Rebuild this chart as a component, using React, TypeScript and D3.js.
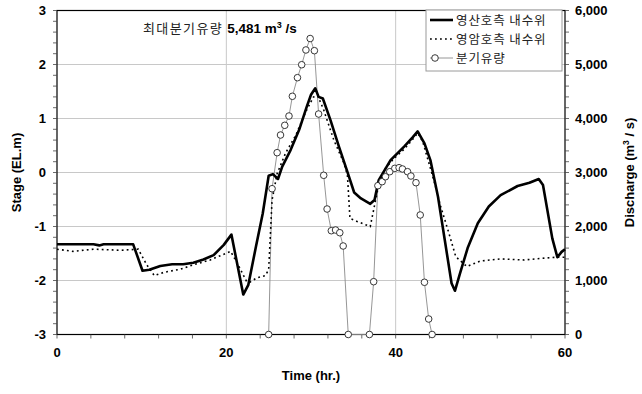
import React from "react";
import * as d3 from "d3";

const solidT = [0, 4.3, 5.0, 5.5, 9.0, 10.1, 10.9, 12.2, 13.6, 14.9, 16.1, 17.3, 18.5, 19.7, 20.6, 22.0, 22.6, 23.5, 24.3, 25.0, 25.5, 26.1, 26.6, 27.6, 28.6, 29.5, 30.0, 30.5, 30.9, 31.4, 32.3, 33.3, 34.3, 35.1, 35.9, 37.0, 37.5, 38.0, 39.4, 41.0, 42.0, 42.6, 43.4, 44.1, 45.0, 45.8, 46.6, 47.0, 47.6, 48.5, 49.7, 51.0, 52.4, 54.4, 55.8, 56.9, 57.4, 58.5, 59.1, 59.6, 60.0];
const solidStage = [-1.33, -1.33, -1.35, -1.33, -1.33, -1.82, -1.8, -1.73, -1.7, -1.7, -1.67, -1.61, -1.53, -1.34, -1.15, -2.26, -2.08, -1.37, -0.76, -0.06, -0.03, -0.12, 0.11, 0.42, 0.79, 1.22, 1.44, 1.56, 1.4, 1.37, 0.97, 0.48, 0.01, -0.37, -0.48, -0.58, -0.51, -0.14, 0.23, 0.48, 0.65, 0.76, 0.54, 0.23, -0.45, -1.25, -2.05, -2.19, -1.87, -1.4, -0.94, -0.63, -0.42, -0.25, -0.19, -0.12, -0.23, -1.22, -1.57, -1.47, -1.42];

const dotT = [0, 1.9, 4.3, 7.5, 9.6, 10.6, 11.5, 12.6, 14.6, 16.1, 18.1, 20.5, 21.3, 22.4, 22.8, 23.6, 24.6, 25.0, 25.4, 26.0, 27.0, 28.2, 29.4, 30.3, 30.8, 31.5, 32.7, 33.9, 34.3, 34.6, 35.5, 37.0, 37.4, 38.1, 38.8, 39.8, 41.0, 42.0, 42.6, 43.2, 44.5, 45.3, 46.3, 47.1, 48.4, 50.0, 52.4, 55.2, 57.2, 58.9, 60.0];
const dotStage = [-1.42, -1.46, -1.42, -1.44, -1.42, -1.71, -1.91, -1.85, -1.79, -1.71, -1.62, -1.46, -1.68, -2.02, -2.03, -1.95, -1.91, -1.8, -0.51, -0.02, 0.36, 0.69, 1.13, 1.4, 1.42, 1.16, 0.6, 0.17, -0.05, -0.85, -0.91, -1.0, -0.69, -0.14, 0.08, 0.26, 0.43, 0.61, 0.73, 0.57, -0.14, -0.62, -1.13, -1.56, -1.74, -1.64, -1.6, -1.62, -1.59, -1.57, -1.57];

const flowT = [25.0, 25.4, 26.0, 26.4, 26.9, 27.4, 27.8, 28.4, 28.9, 29.4, 29.9, 30.4, 30.9, 31.5, 31.9, 32.4, 32.9, 33.4, 33.8, 34.4, 36.9, 37.4, 37.9, 38.4, 38.8, 39.3, 39.9, 40.4, 40.8, 41.4, 41.8, 42.4, 42.9, 43.4, 43.9, 44.3];
const flowQ = [0, 2700, 3367, 3694, 3874, 4046, 4411, 4756, 4996, 5269, 5481, 5256, 4083, 2948, 2324, 1922, 1935, 1885, 1639, 0, 0, 978, 2756, 2830, 2922, 3015, 3077, 3089, 3065, 3015, 2935, 2811, 2213, 967, 287, 0];

const xTicks = [0, 20, 40, 60];
const yTicks = [3, 2, 1, 0, -1, -2, -3];
const qTicks = [6000, 5000, 4000, 3000, 2000, 1000, 0];
const legendNames = ["영산호측 내수위", "영암호측 내수위", "분기유량"];
const noteLabel = "최대분기유량";
const noteValue = "5,481";

const W = 642, H = 394;
const L = 57, R = 565, T = 10.5, B = 334.5;

export default function App() {
  const x = d3.scaleLinear().domain([0, 60]).range([L, R]);
  const y = d3.scaleLinear().domain([-3, 3]).range([B, T]);
  const q = d3.scaleLinear().domain([0, 6000]).range([B, T]);

  const solid = solidT.map((t, i) => [t, solidStage[i]] as [number, number]);
  const dotted = dotT.map((t, i) => [t, dotStage[i]] as [number, number]);
  const flow = flowT.map((t, i) => [t, flowQ[i]] as [number, number]);

  const stageLine = d3.line<[number, number]>().x(d => x(d[0])).y(d => y(d[1]));
  const flowLine = d3.line<[number, number]>().x(d => x(d[0])).y(d => q(d[1]));

  const bold = "'Liberation Sans', Arial, sans-serif";
  const kr = "'Noto Sans CJK KR', sans-serif";

  const yMinor = d3.range(-3, 3.001, 0.2);
  const qMinor = d3.range(0, 6001, 200);
  const xMinor = d3.range(0, 60.001, 4);

  const lgX = 426, lgY = 10;
  return (
    <svg width={W} height={H} style={{ position: "absolute", left: 0, top: 0, background: "#fff" }}>
      <rect x={0} y={0} width={W} height={H} fill="#fff" />
      {[-2, -1, 0, 1, 2].map(v => (
        <line key={"gy" + v} x1={L} x2={R} y1={y(v)} y2={y(v)} stroke="#c8c8c8" strokeWidth={1} />
      ))}
      {[20, 40].map(v => (
        <line key={"gx" + v} x1={x(v)} x2={x(v)} y1={T} y2={B} stroke="#c8c8c8" strokeWidth={1} />
      ))}
      <rect x={L} y={T} width={R - L} height={B - T} fill="none" stroke="#000" strokeWidth={1.2} />
      {yMinor.map((v, i) => (
        <line key={"ty" + i} x1={L - 4} x2={L} y1={y(v)} y2={y(v)} stroke="#444" strokeWidth={0.8} />
      ))}
      {qMinor.map((v, i) => (
        <line key={"tq" + i} x1={R} x2={R + 4} y1={q(v)} y2={q(v)} stroke="#444" strokeWidth={0.8} />
      ))}
      {xMinor.map((v, i) => (
        <line key={"tx" + i} x1={x(v)} x2={x(v)} y1={B} y2={B + 4} stroke="#444" strokeWidth={0.8} />
      ))}
      {yTicks.map(v => (
        <text key={"ly" + v} x={L - 11} y={y(v) + 4.5} textAnchor="end" fontFamily={bold} fontWeight="bold" fontSize={13}>{v}</text>
      ))}
      {qTicks.map(v => (
        <text key={"lq" + v} x={R + 10} y={q(v) + 4.5} textAnchor="start" fontFamily={bold} fontWeight="bold" fontSize={13}>{d3.format(",")(v)}</text>
      ))}
      {xTicks.map(v => (
        <text key={"lx" + v} x={x(v)} y={B + 22} textAnchor="middle" fontFamily={bold} fontWeight="bold" fontSize={13}>{v}</text>
      ))}
      <text x={(L + R) / 2} y={380} textAnchor="middle" fontFamily={bold} fontWeight="bold" fontSize={13}>Time (hr.)</text>
      <text transform={`translate(21,${(T + B) / 2}) rotate(-90)`} textAnchor="middle" fontFamily={bold} fontWeight="bold" fontSize={13}>Stage (EL.m)</text>
      <text transform={`translate(634,${(T + B) / 2}) rotate(-90)`} textAnchor="middle" fontFamily={bold} fontWeight="bold" fontSize={13}>
        Discharge (m<tspan dy={-5} fontSize={8.5}>3</tspan><tspan dy={5}> / s)</tspan>
      </text>
      <path d={flowLine(flow) || ""} fill="none" stroke="#8a8a8a" strokeWidth={0.9} />
      <path d={stageLine(dotted) || ""} fill="none" stroke="#000" strokeWidth={1.6} strokeDasharray="1.8,3.2" />
      <path d={stageLine(solid) || ""} fill="none" stroke="#000" strokeWidth={2.6} strokeLinejoin="round" />
      {flow.map((d, i) => (
        <circle key={"c" + i} cx={x(d[0])} cy={q(d[1])} r={3.3} fill="#fff" stroke="#222" strokeWidth={0.9} />
      ))}
      <text x={143} y={33}>
        <tspan fontFamily={kr} fill="#222" fontSize={13} letterSpacing={1.4}>{noteLabel}</tspan>
        <tspan fontFamily={bold} fontWeight="bold" fontSize={13.5} dx={4}>{noteValue} m</tspan>
        <tspan fontFamily={bold} fontWeight="bold" fontSize={9} dy={-5}>3</tspan>
        <tspan fontFamily={bold} fontWeight="bold" fontSize={13.5} dy={5}> /s</tspan>
      </text>
      <rect x={lgX} y={lgY} width={R - 3 - lgX} height={61} fill="#fff" stroke="#9a9a9a" strokeWidth={1} />
      {legendNames.map((name, i) => {
        const yy = lgY + 10 + i * 19;
        return (
          <g key={"lg" + i}>
            {i === 0 && <line x1={lgX + 4} x2={lgX + 27} y1={yy} y2={yy} stroke="#000" strokeWidth={2.6} />}
            {i === 1 && <line x1={lgX + 4} x2={lgX + 27} y1={yy} y2={yy} stroke="#000" strokeWidth={1.6} strokeDasharray="1.8,3.2" />}
            {i === 2 && (
              <g>
                <line x1={lgX + 4} x2={lgX + 27} y1={yy} y2={yy} stroke="#8a8a8a" strokeWidth={0.9} />
                <circle cx={lgX + 9} cy={yy} r={3.3} fill="#fff" stroke="#222" strokeWidth={0.9} />
              </g>
            )}
            <text x={lgX + 30} y={yy + 4.5} fontFamily={kr} fontSize={12.5} fill="#222" letterSpacing={0.9}>{name}</text>
          </g>
        );
      })}
    </svg>
  );
}
